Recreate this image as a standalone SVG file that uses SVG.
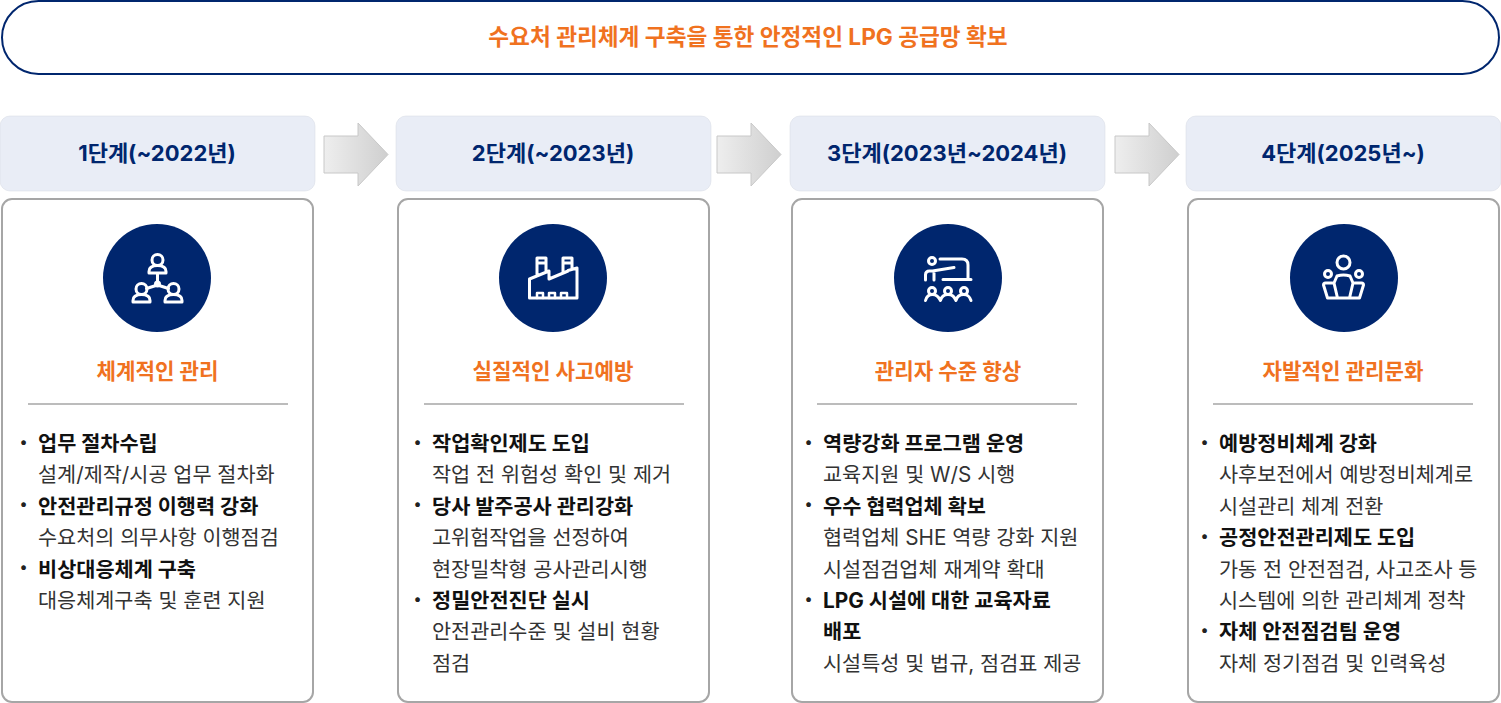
<svg xmlns="http://www.w3.org/2000/svg" width="1501" height="703" viewBox="0 0 1501 703">
<style>
text{font-family:Inter,"Noto Sans CJK KR",sans-serif}
.t{font-size:22.650px;font-weight:700;fill:#f0721f;text-anchor:middle}
.h{font-size:22px;font-weight:700;fill:#00266e;text-anchor:middle}
.s{font-size:21.200px;font-weight:700;fill:#f0721f;text-anchor:middle}
.b{font-size:20.800px;font-weight:700;fill:#111}
.n{font-size:20.750px;font-weight:400;fill:#333}
.d{font-size:15px;font-weight:700;fill:#222}
.hd{fill:#e9edf6;stroke:#d5d9e2;stroke-width:.5}
.box{fill:#fff;stroke:#a6a6a6;stroke-width:2}
.c{fill:#00266e}
.ln{stroke:#a6a6a6;stroke-width:1.500}
.ar{fill:url(#g);stroke:#c8c8c8;stroke-width:1}
.i{fill:none;stroke:#fff;stroke-width:3;stroke-linejoin:round;stroke-linecap:round}
</style>
<defs><linearGradient id="g" x1="0" x2="1" y1="0" y2="0"><stop offset="0" stop-color="#eeeeee"/><stop offset="1" stop-color="#cfcfcf"/></linearGradient></defs>
<g id="goal"><rect x="2" y="1" width="1497" height="73" rx="36.500" fill="#fff" stroke="#00266e" stroke-width="2"/><text class="t" x="748" y="45">수요처 관리체계 구축을 통한 안정적인 LPG 공급망 확보</text></g>
<g id="connectors">
<path class="ar" d="M324 136H358V123L388 154.500L358 186V173H324Z"/>
<path class="ar" d="M717 136H751V123L781 154.500L751 186V173H717Z"/>
<path class="ar" d="M1115 136H1149V123L1179 154.500L1149 186V173H1115Z"/>
</g>
<g id="step1">
<rect class="hd" x="0" y="116" width="315" height="75" rx="10"/><text class="h" x="157" y="161">1단계(~2022년)</text>
<rect class="box" x="2" y="199" width="311" height="503" rx="10"/>
<circle class="c" cx="157" cy="278" r="54"/>
<g class="i"><circle cx="157.500" cy="260" r="5.500"/><path d="M149 271.500q0-6 8.500-6t8.500 6v1.500h-17zM157.500 273v10M157.500 285l-11 3.500M157.500 285l11 3.500"/><circle cx="157.500" cy="284" r="2"/><circle cx="141.500" cy="289" r="5.500"/><path d="M133 300.500q0-6 8.500-6t8.500 6v1.500h-17z"/><circle cx="173.500" cy="289" r="5.500"/><path d="M165 300.500q0-6 8.500-6t8.500 6v1.500h-17z"/></g>
<text class="s" x="157.500" y="379">체계적인 관리</text>
<line class="ln" x1="28" y1="404" x2="288" y2="404"/>
<text class="d" x="20" y="446.600">•</text><text class="b" x="38" y="451">업무 절차수립</text>
<text class="n" x="38" y="482.400">설계/제작/시공 업무 절차화</text>
<text class="d" x="20" y="509.400">•</text><text class="b" x="38" y="513.800">안전관리규정 이행력 강화</text>
<text class="n" x="38" y="545.200">수요처의 의무사항 이행점검</text>
<text class="d" x="20" y="572.200">•</text><text class="b" x="38" y="576.600">비상대응체계 구축</text>
<text class="n" x="38" y="608">대응체계구축 및 훈련 지원</text>
</g>
<g id="step2">
<rect class="hd" x="396" y="116" width="315" height="75" rx="10"/><text class="h" x="553" y="161">2단계(~2023년)</text>
<rect class="box" x="398" y="199" width="311" height="503" rx="10"/>
<circle class="c" cx="553" cy="278" r="54"/>
<g class="i"><path d="M529.500 298V279l19.500-8v8l19-8v-.5l9-2.500V298ZM537 276v-18h9v14M537 263h9M563 272v-14h9v10M563 263h9"/><path d="M537 298v-5h6v5M549 298v-5h6v5M561 298v-5h6v5" stroke-width="2.500"/></g>
<text class="s" x="553" y="379">실질적인 사고예방</text>
<line class="ln" x1="424" y1="404" x2="684" y2="404"/>
<text class="d" x="414" y="446.600">•</text><text class="b" x="432" y="451">작업확인제도 도입</text>
<text class="n" x="432" y="482.400">작업 전 위험성 확인 및 제거</text>
<text class="d" x="414" y="509.400">•</text><text class="b" x="432" y="513.800">당사 발주공사 관리강화</text>
<text class="n" x="432" y="545.200">고위험작업을 선정하여</text>
<text class="n" x="432" y="576.600">현장밀착형 공사관리시행</text>
<text class="d" x="414" y="603.600">•</text><text class="b" x="432" y="608">정밀안전진단 실시</text>
<text class="n" x="432" y="639.400">안전관리수준 및 설비 현황</text>
<text class="n" x="432" y="670.800">점검</text>
</g>
<g id="step3">
<rect class="hd" x="790" y="116" width="315" height="75" rx="10"/><text class="h" x="947" y="161">3단계(2023년~2024년)</text>
<rect class="box" x="792" y="199" width="311" height="503" rx="10"/>
<circle class="c" cx="948" cy="278" r="54"/>
<g class="i"><circle cx="932" cy="261" r="3.500"/><path d="M925.500 280v-5q0-4 4-4h3l21.500-3.500M934 280v-7M940 259h22q6 0 6 6v14M943 279.500h28"/><circle cx="932" cy="291" r="3.500"/><circle cx="948" cy="291" r="3.500"/><circle cx="964" cy="291" r="3.500"/><path d="M925.500 300.500c1-4 3-6 7-6s6 2 8 6c1-4 3-6 7.500-6s6 2 8 6c1-4 3-6 7.500-6s6 2 7.500 6"/></g>
<text class="s" x="948" y="379">관리자 수준 향상</text>
<line class="ln" x1="817" y1="404" x2="1077" y2="404"/>
<text class="d" x="805" y="446.600">•</text><text class="b" x="823" y="451">역량강화 프로그램 운영</text>
<text class="n" x="823" y="482.400">교육지원 및 W/S 시행</text>
<text class="d" x="805" y="509.400">•</text><text class="b" x="823" y="513.800">우수 협력업체 확보</text>
<text class="n" x="823" y="545.200">협력업체 SHE 역량 강화 지원</text>
<text class="n" x="823" y="576.600">시설점검업체 재계약 확대</text>
<text class="d" x="805" y="603.600">•</text><text class="b" x="823" y="608">LPG 시설에 대한 교육자료</text>
<text class="b" x="823" y="639.400">배포</text>
<text class="n" x="823" y="670.800">시설특성 및 법규, 점검표 제공</text>
</g>
<g id="step4">
<rect class="hd" x="1186" y="116" width="315" height="75" rx="10"/><text class="h" x="1343" y="161">4단계(2025년~)</text>
<rect class="box" x="1188" y="199" width="311" height="503" rx="10"/>
<circle class="c" cx="1344" cy="278" r="54"/>
<g class="i"><circle cx="1343.500" cy="262.500" r="6.500"/><path d="M1337 276q6.500-2 13 0l3 7-3.500 15h-12l-3.500-15zM1337.500 298h-10l-4-13q0-2 2-2h7M1349.500 298h10l4-13q0-2-2-2h-7"/><circle cx="1328" cy="274" r="3.500"/><circle cx="1359" cy="274" r="3.500"/></g>
<text class="s" x="1343" y="379">자발적인 관리문화</text>
<line class="ln" x1="1213" y1="404" x2="1473" y2="404"/>
<text class="d" x="1201" y="446.600">•</text><text class="b" x="1219" y="451">예방정비체계 강화</text>
<text class="n" x="1219" y="482.400">사후보전에서 예방정비체계로</text>
<text class="n" x="1219" y="513.800">시설관리 체계 전환</text>
<text class="d" x="1201" y="540.800">•</text><text class="b" x="1219" y="545.200">공정안전관리제도 도입</text>
<text class="n" x="1219" y="576.600">가동 전 안전점검, 사고조사 등</text>
<text class="n" x="1219" y="608">시스템에 의한 관리체계 정착</text>
<text class="d" x="1201" y="635">•</text><text class="b" x="1219" y="639.400">자체 안전점검팀 운영</text>
<text class="n" x="1219" y="670.800">자체 정기점검 및 인력육성</text>
</g>
</svg>
